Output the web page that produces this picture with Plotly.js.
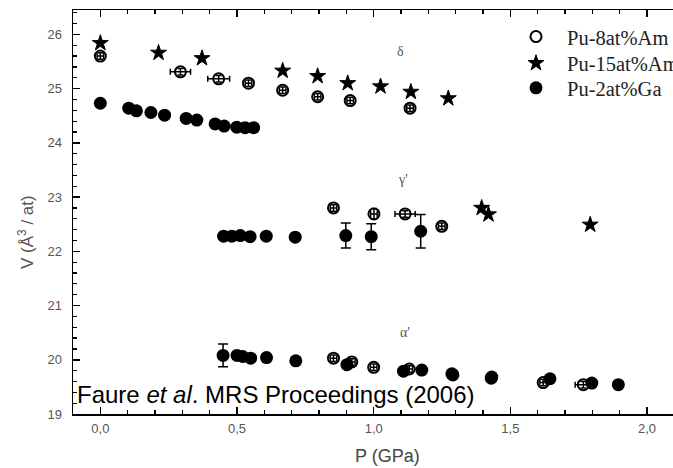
<!DOCTYPE html>
<html>
<head>
<meta charset="utf-8">
<script src="https://cdn.plot.ly/plotly-3.0.1.min.js"></script>
<style>
  html, body { margin: 0; padding: 0; background: #fff; }
  #chart { width: 673px; height: 468px; overflow: hidden; }
</style>
</head>
<body>
<div id="chart"></div>
<script>
// Atomic volume vs pressure for three Pu alloys (delta, gamma', alpha' phases)

// Pu-8at%Am
const am8P    = [0.0, 0.293, 0.433, 0.542, 0.667, 0.795, 0.914, 1.133,
                 0.853, 1.001, 1.115, 1.249,
                 0.853, 0.920, 1.000, 1.130, 1.290, 1.430, 1.620, 1.767];
const am8V    = [25.60, 25.31, 25.18, 25.10, 24.97, 24.85, 24.78, 24.64,
                 22.80, 22.69, 22.69, 22.46,
                 20.03, 19.96, 19.86, 19.83, 19.72, 19.66, 19.58, 19.54];
const am8ErrP = [0.012, 0.037, 0.040, 0.012, 0.012, 0.012, 0.012, 0.012,
                 0.012, 0.012, 0.037, 0.012,
                 0.012, 0.012, 0.012, 0.012, 0.012, 0.012, 0.012, 0.030];
const am8ErrV = [0.06, 0.06, 0.06, 0.06, 0.06, 0.06, 0.06, 0.06,
                 0.06, 0.10, 0.06, 0.06,
                 0.06, 0.06, 0.06, 0.06, 0.06, 0.06, 0.06, 0.06];

// Pu-15at%Am
const am15P = [0.0, 0.213, 0.372, 0.667, 0.795, 0.905, 1.025, 1.136, 1.273,
               1.395, 1.420, 1.792];
const am15V = [25.84, 25.66, 25.56, 25.33, 25.23, 25.10, 25.04, 24.94, 24.82,
               22.80, 22.68, 22.49];

// Pu-2at%Ga
const ga2P    = [0.0, 0.104, 0.132, 0.185, 0.235, 0.314, 0.353, 0.420, 0.453, 0.499, 0.530, 0.561,
                 0.451, 0.481, 0.512, 0.548, 0.607, 0.713, 0.898, 0.991, 1.172,
                 0.449, 0.500, 0.521, 0.550, 0.608, 0.715, 0.902, 1.109, 1.176, 1.286, 1.432, 1.645, 1.798, 1.895];
const ga2V    = [24.73, 24.64, 24.59, 24.56, 24.51, 24.45, 24.42, 24.35, 24.31, 24.29, 24.28, 24.28,
                 22.28, 22.28, 22.29, 22.27, 22.28, 22.26, 22.29, 22.27, 22.37,
                 20.08, 20.08, 20.06, 20.03, 20.04, 19.98, 19.91, 19.79, 19.81, 19.74, 19.68, 19.65, 19.57, 19.54];
const ga2ErrV = [0, 0, 0, 0, 0, 0, 0, 0, 0, 0, 0, 0,
                 0, 0, 0, 0, 0, 0, 0.23, 0.24, 0.31,
                 0.21, 0, 0, 0, 0, 0, 0, 0, 0, 0, 0, 0, 0, 0];

const seriesNames = ['Pu-8at%Am', 'Pu-15at%Am', 'Pu-2at%Ga'];
const phaseLabels = ['δ', "γ'", "α'"];
const xTitle = 'P (GPa)';
const yTitle = 'V (Å<sup>3</sup> / at)';
const sourceNote = 'Faure <i>et al</i>. MRS Proceedings (2006)';

const errStyle = { color: '#000', thickness: 1.5, width: 3 };

const traces = [
  {
    x: am8P, y: am8V, name: seriesNames[0], type: 'scatter', mode: 'markers', legend: 'legend',
    marker: { symbol: 'circle-open', size: 11, color: '#000', line: { width: 2, color: '#000' } },
    error_x: Object.assign({ type: 'data', array: am8ErrP, visible: true }, errStyle),
    error_y: Object.assign({ type: 'data', array: am8ErrV, visible: true }, errStyle)
  },
  {
    x: am15P, y: am15V, name: seriesNames[1], type: 'scatter', mode: 'markers', legend: 'legend2',
    marker: { symbol: 'star', size: 12, color: '#000', line: { width: 1, color: '#000' } }
  },
  {
    x: ga2P, y: ga2V, name: seriesNames[2], type: 'scatter', mode: 'markers', legend: 'legend3',
    marker: { symbol: 'circle', size: 13, color: '#000' },
    error_y: Object.assign({ type: 'data', array: ga2ErrV, visible: true }, errStyle, { width: 5 })
  }
];

const tickFont = { family: 'Arial, Liberation Sans, sans-serif', size: 13, color: '#555' };

// one legend box per series so the rows can sit at their own heights
const legendBox = y => ({
  x: 0.72, y: y, xanchor: 'left', yanchor: 'top',
  bgcolor: 'rgba(0,0,0,0)', borderwidth: 0, itemwidth: 52,
  font: { family: 'Liberation Serif, Times New Roman, serif', size: 20.5, color: '#222' }
});

const layout = {
  width: 673, height: 468,
  margin: { l: 73, r: 0, t: 10, b: 54, autoexpand: false },
  paper_bgcolor: '#fff', plot_bgcolor: '#fff',
  separators: ', ',
  showlegend: true,
  legend: legendBox(0.9834),
  legend2: legendBox(0.9176),
  legend3: legendBox(0.8564),
  xaxis: {
    range: [-0.1, 2.095], dtick: 0.5, tick0: 0, tickformat: '.1f',
    ticks: 'inside', ticklen: 7, tickwidth: 1.5, tickcolor: '#000',
    minor: { dtick: 0.1, ticks: 'inside', ticklen: 4, tickwidth: 1.2, tickcolor: '#000' },
    showline: true, linecolor: '#000', linewidth: 1.5, mirror: 'ticks',
    showgrid: false, zeroline: false,
    tickfont: tickFont, ticklabelstandoff: 2
  },
  yaxis: {
    range: [19, 26.45], dtick: 1, tick0: 19,
    ticks: 'inside', ticklen: 7, tickwidth: 1.5, tickcolor: '#000',
    minor: { dtick: 0.2, ticks: 'inside', ticklen: 4, tickwidth: 1.2, tickcolor: '#000' },
    showline: true, linecolor: '#000', linewidth: 1.5, mirror: false,
    showgrid: false, zeroline: false,
    tickfont: tickFont, ticklabelstandoff: 7
  },
  annotations: [
    { text: phaseLabels[0], x: 1.099, y: 25.69, xref: 'x', yref: 'y', showarrow: false,
      font: { family: 'Liberation Serif, serif', size: 14, color: '#555' } },
    { text: phaseLabels[1], x: 1.107, y: 23.32, xref: 'x', yref: 'y', showarrow: false,
      font: { family: 'Liberation Serif, serif', size: 14, color: '#555' } },
    { text: phaseLabels[2], x: 1.115, y: 20.51, xref: 'x', yref: 'y', showarrow: false,
      font: { family: 'Liberation Serif, serif', size: 14, color: '#555' } },
    { text: xTitle, xref: 'paper', yref: 'paper', showarrow: false, yanchor: 'middle',
      font: { family: 'Arial, Liberation Sans, sans-serif', size: 18, color: '#444' } },
    { text: yTitle, xref: 'paper', yref: 'paper', showarrow: false, textangle: -90,
      font: { family: 'Arial, Liberation Sans, sans-serif', size: 17, color: '#555' } },
    { text: sourceNote, x: 0.003, xref: 'paper', yref: 'paper', xanchor: 'left', yanchor: 'middle',
      showarrow: false,
      font: { family: 'Arial, Liberation Sans, sans-serif', size: 24, color: '#000' } }
  ]
};

// Titles and source note are placed by pixel position, converted to paper coords
const plotL = 73, plotB = 468 - 54;
const plotW = 673 - 73, plotH = 468 - 10 - 54;
const toPaperX = px => (px - plotL) / plotW;
const toPaperY = py => (plotB - py) / plotH;
layout.annotations[3].x = toPaperX(387);
layout.annotations[3].y = toPaperY(456);
layout.annotations[4].x = toPaperX(13);
layout.annotations[4].y = toPaperY(232);
layout.annotations[5].y = toPaperY(394);

Plotly.newPlot('chart', traces, layout, { displayModeBar: false, staticPlot: true });
</script>
</body>
</html>
